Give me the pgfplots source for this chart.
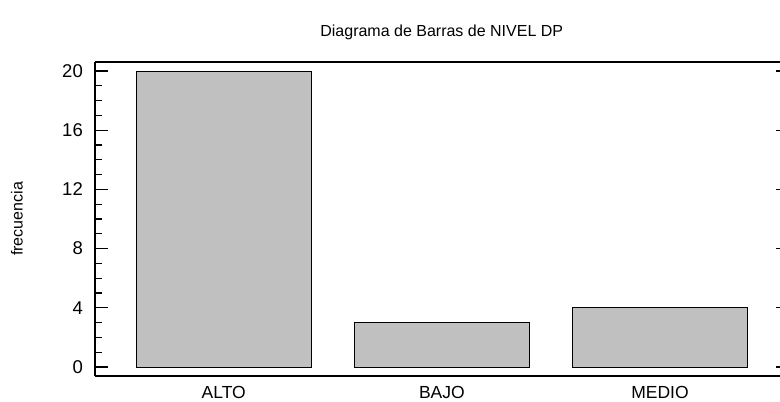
\documentclass[border=0pt]{standalone}
\usepackage{fontspec}
\setmainfont{Liberation Sans}
\usepackage{pgfplots}
\pgfplotsset{compat=1.18}
\definecolor{barfill}{HTML}{C0C0C0}
\begin{document}
\begin{tikzpicture}[x=1pt,y=1pt]
\useasboundingbox (0,0) rectangle (780,402);
\begin{axis}[
  at={(95pt,26pt)}, anchor=south west,
  scale only axis, width=685.5pt, height=314pt,
  xmin=-0.5905, xmax=2.5525, ymin=-0.61, ymax=20.61,
  axis x line*=box, axis y line*=left,
  axis line style={line width=1.4pt, black},
  xtick={0,1,2}, xticklabels={ALTO,BAJO,MEDIO},
  xtick style={draw=none},
  xticklabel style={anchor=center, yshift=-3.5pt, inner sep=0pt, font=\fontsize{17.5}{20}\selectfont},
  ytick={0,4,8,12,16,20},
  minor y tick num=3,
  tick align=inside,
  major tick length=13pt, minor tick length=7pt,
  ytick style={line width=1.1pt, black},
  minor y tick style={line width=1.1pt, black},
  yticklabel style={anchor=east, xshift=-12pt, inner sep=0pt, font=\fontsize{18.5}{21}\selectfont},
  /pgf/number format/assume math mode=true,
  font=\fontsize{16}{19}\selectfont,
  ylabel={frecuencia},
  every axis y label/.style={at={(axis description cs:-0.1138,0.5)}, rotate=90, anchor=center},
  title={Diagrama de Barras de NIVEL DP},
  every axis title/.style={at={(axis description cs:0.5,1)}, anchor=center, yshift=30pt, xshift=4pt},
  ybar, bar width=175.5pt,
  clip=false,
]
\addplot[fill=barfill, draw=black, line width=0.8pt] coordinates {(0,20) (1,3) (2,4)};
\end{axis}
\begin{axis}[
  at={(95pt,26pt)}, anchor=south west,
  scale only axis, width=685.5pt, height=314pt,
  xmin=-0.5905, xmax=2.5525, ymin=-0.61, ymax=20.61,
  axis x line=none, axis y line*=right,
  y axis line style={draw=none},
  xtick=\empty,
  ytick={0,4,8,12,16,20}, yticklabels={},
  tick align=inside, major tick length=4.5pt,
  ytick style={line width=1.1pt, black},
]
\end{axis}
\end{tikzpicture}
\end{document}
